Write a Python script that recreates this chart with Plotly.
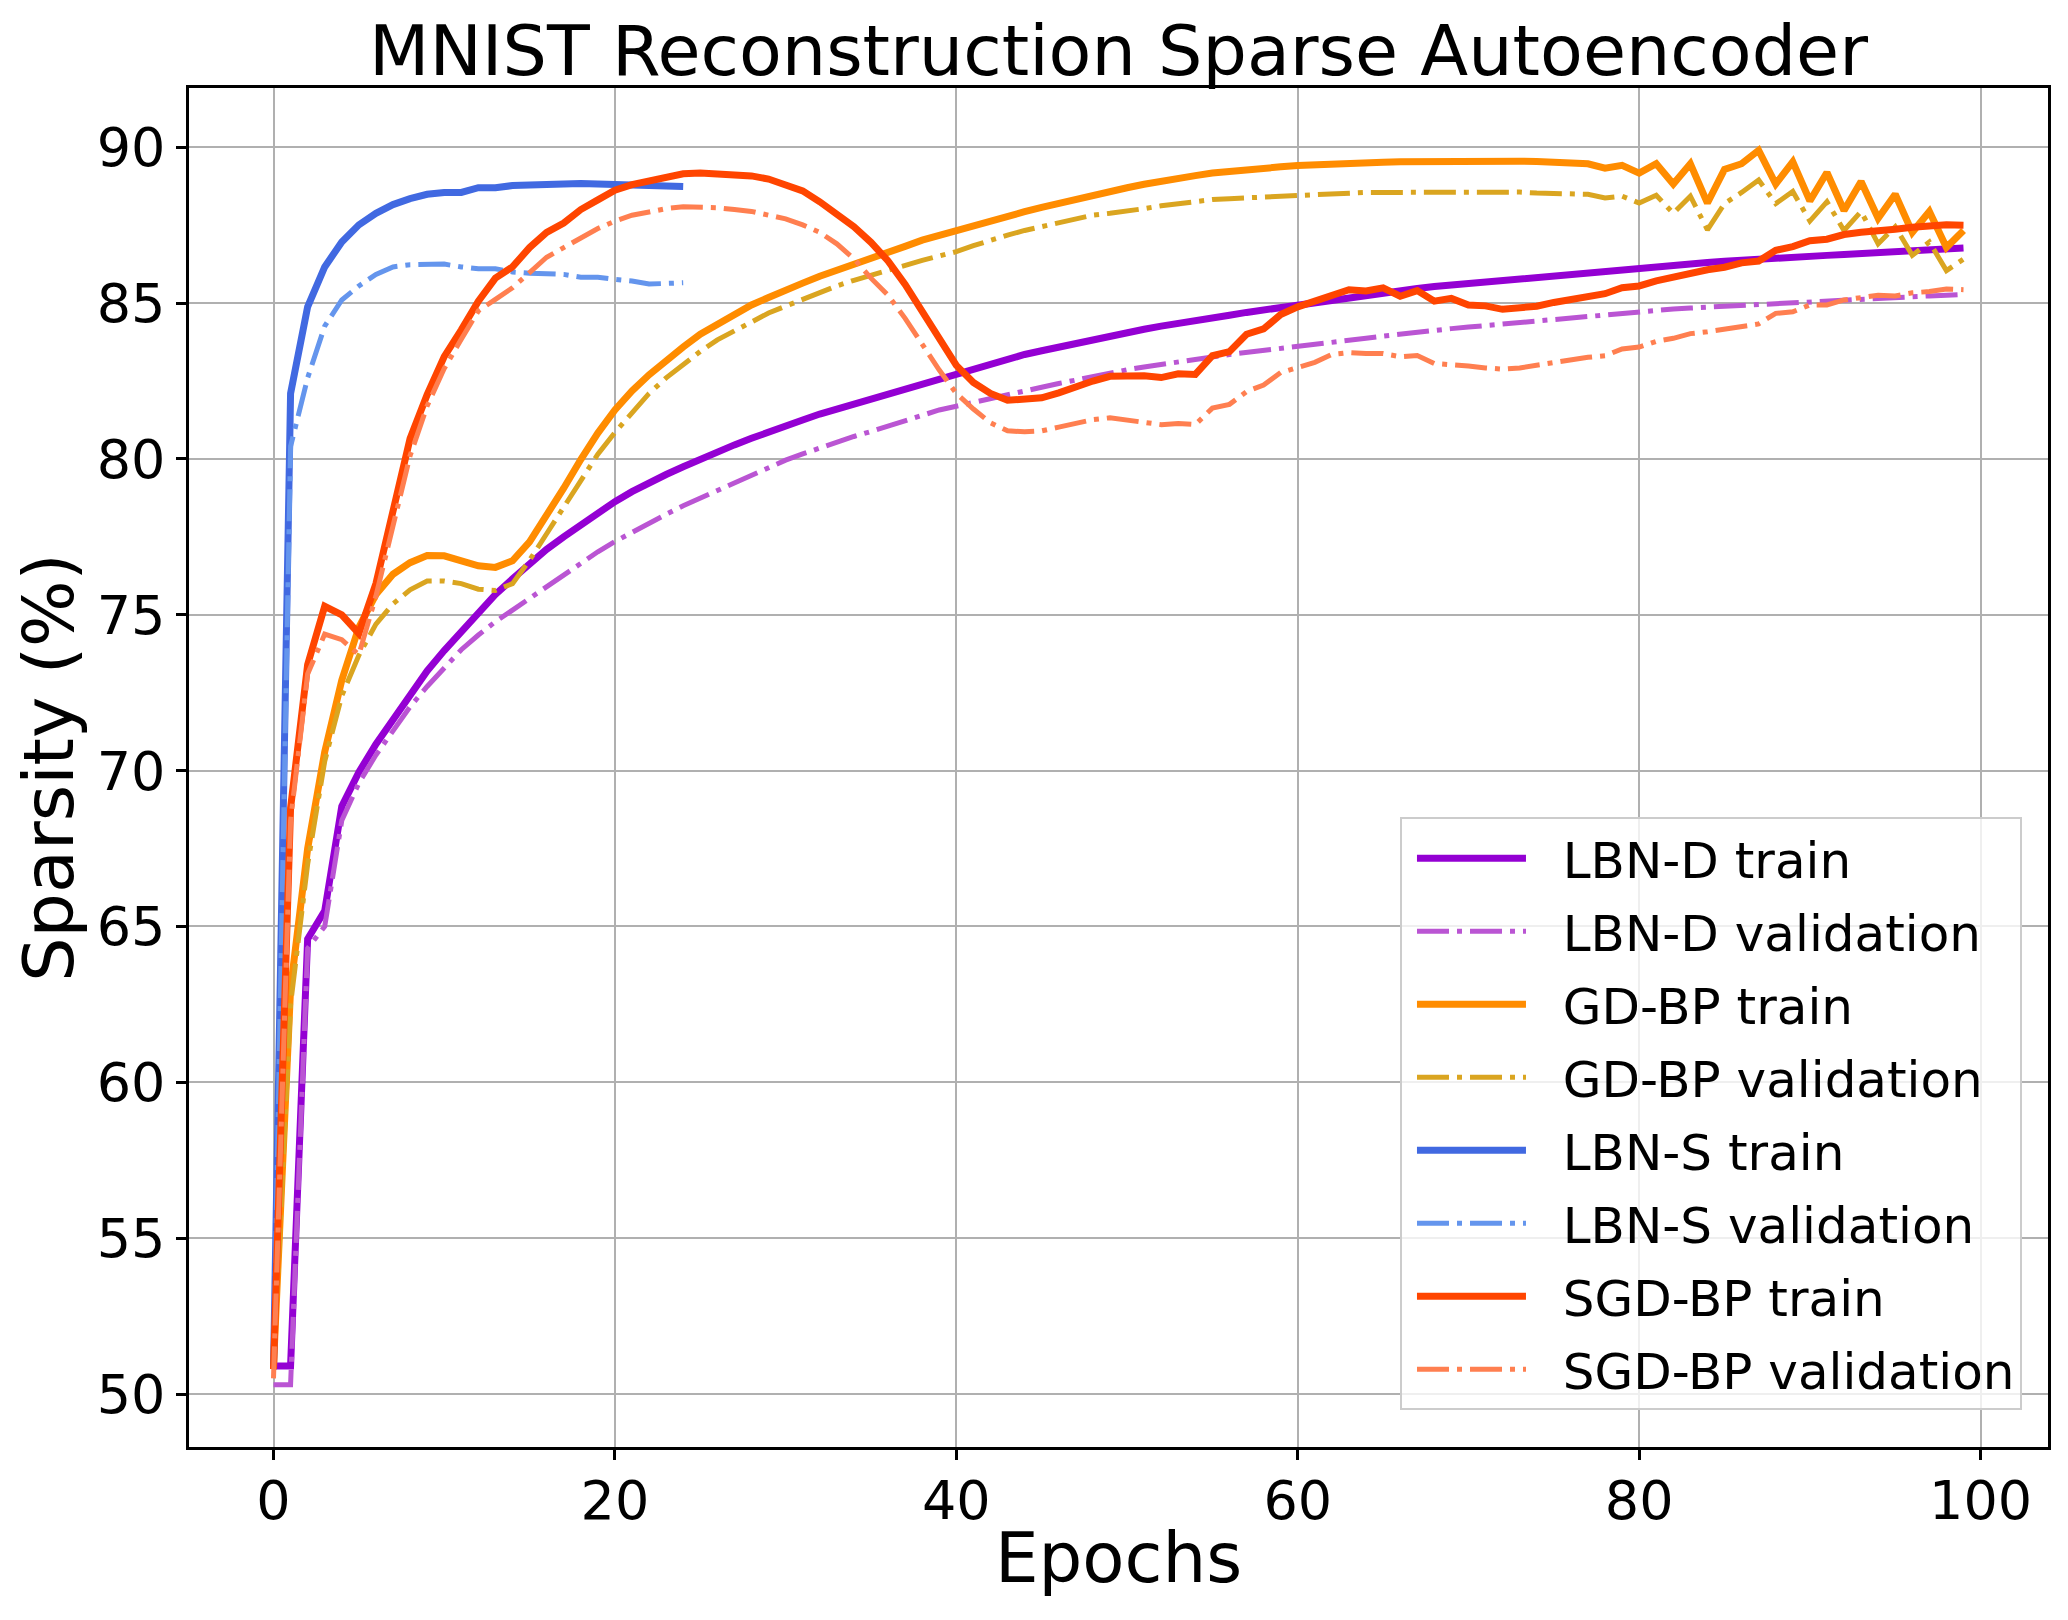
import plotly.graph_objects as go

epochs = list(range(100))
epochs_s = list(range(25))

lbnd_train = [50.9, 50.9, 64.6, 65.5, 68.85, 69.95, 70.85, 71.65, 72.45, 73.2,
              73.85, 74.45, 75.05, 75.65, 76.15, 76.65, 77.1, 77.5, 77.9, 78.28,
              78.63, 78.95, 79.24, 79.5, 79.75, 80.0, 80.22, 80.45, 80.66, 80.87,
              81.06, 81.25, 81.44, 81.6, 81.76, 81.92, 82.07, 82.25, 82.42, 82.58,
              82.73, 82.9, 83.06, 83.2, 83.35, 83.47, 83.59, 83.72, 83.84, 83.95,
              84.06, 84.16, 84.26, 84.36, 84.45, 84.53, 84.61, 84.7, 84.78, 84.86,
              84.94, 85.03, 85.12, 85.2, 85.27, 85.34, 85.4, 85.47, 85.53, 85.58,
              85.64, 85.69, 85.75, 85.8, 85.85, 85.9, 85.95, 86.0, 86.05, 86.1,
              86.14, 86.18, 86.22, 86.26, 86.3, 86.34, 86.38, 86.41, 86.44, 86.47,
              86.5, 86.53, 86.56, 86.59, 86.62, 86.65, 86.68, 86.71, 86.74, 86.77]

lbnd_val = [50.3, 50.3, 64.3, 65.0, 68.4, 69.6, 70.5, 71.3, 72.05, 72.7,
            73.3, 73.88, 74.35, 74.78, 75.15, 75.52, 75.9, 76.3, 76.67, 77.02,
            77.35, 77.65, 77.95, 78.22, 78.5, 78.75, 79.0, 79.25, 79.5, 79.74,
            79.96, 80.16, 80.36, 80.54, 80.72, 80.88, 81.06, 81.25, 81.43, 81.57,
            81.69, 81.82, 81.94, 82.06, 82.18, 82.3, 82.42, 82.54, 82.65, 82.76,
            82.86, 82.95, 83.04, 83.12, 83.19, 83.27, 83.35, 83.41, 83.47, 83.53,
            83.59, 83.66, 83.74, 83.8, 83.87, 83.94, 84.01, 84.07, 84.13, 84.18,
            84.23, 84.28, 84.33, 84.39, 84.44, 84.5, 84.55, 84.6, 84.65, 84.7,
            84.75, 84.78, 84.81, 84.84, 84.87, 84.9, 84.93, 84.96, 84.98, 85.01,
            85.04, 85.07, 85.09, 85.12, 85.15, 85.17, 85.2, 85.23, 85.25, 85.28]

gdbp_train = [50.9, 63.0, 67.5, 70.6, 72.9, 74.6, 75.65, 76.3, 76.67, 76.9,
              76.89, 76.73, 76.57, 76.52, 76.73, 77.34, 78.16, 79.06, 79.98, 80.83,
              81.57, 82.18, 82.7, 83.16, 83.59, 84.0, 84.33, 84.63, 84.94, 85.18,
              85.43, 85.64, 85.86, 86.04, 86.23, 86.42, 86.62, 86.82, 87.02, 87.18,
              87.33, 87.48, 87.63, 87.78, 87.93, 88.07, 88.2, 88.35, 88.48, 88.6,
              88.7, 88.81, 88.92, 89.01, 89.09, 89.17, 89.23, 89.28, 89.33, 89.37,
              89.41, 89.44, 89.47, 89.49, 89.51, 89.52, 89.53, 89.54, 89.55, 89.56,
              89.56, 89.56, 89.56, 89.55, 89.54, 89.53, 89.47, 89.47, 89.33, 89.42,
              89.17, 89.47, 88.82, 89.47, 88.21, 89.29, 89.47, 89.9, 88.82, 89.53,
              88.28, 89.19, 87.97, 88.9, 87.72, 88.49, 87.27, 87.94, 86.78, 87.33]

gdbp_val = [50.9, 62.5, 67.0, 70.3, 72.4, 73.7, 74.7, 75.35, 75.8, 76.08,
            76.08, 76.0, 75.82, 75.78, 76.0, 76.75, 77.6, 78.45, 79.3, 80.15,
            80.85, 81.5, 82.1, 82.6, 83.05, 83.45, 83.82, 84.12, 84.42, 84.68,
            84.9, 85.12, 85.35, 85.55, 85.73, 85.9, 86.04, 86.2, 86.37, 86.51,
            86.65, 86.84, 87.02, 87.18, 87.33, 87.45, 87.57, 87.7, 87.82, 87.88,
            87.94, 88.03, 88.12, 88.2, 88.28, 88.32, 88.35, 88.38, 88.4, 88.43,
            88.46, 88.49, 88.52, 88.54, 88.55, 88.55, 88.55, 88.56, 88.57, 88.58,
            88.58, 88.58, 88.58, 88.56, 88.53, 88.51, 88.49, 88.49, 88.37, 88.43,
            88.21, 88.46, 87.88, 88.43, 87.35, 88.19, 88.55, 88.95, 88.19, 88.58,
            87.63, 88.25, 87.33, 87.94, 86.9, 87.45, 86.53, 86.96, 86.04, 86.41]

lbns_train = [50.8, 82.1, 84.88, 86.16, 86.96, 87.51, 87.88, 88.16, 88.35, 88.49,
              88.55, 88.55, 88.7, 88.7, 88.77, 88.8, 88.81, 88.82, 88.84, 88.82,
              88.8, 88.82, 88.8, 88.79, 88.74]

lbns_val = [50.8, 80.4, 82.6, 84.26, 85.1, 85.55, 85.92, 86.16, 86.23, 86.25,
            86.25, 86.16, 86.1, 86.1, 86.0, 85.96, 85.94, 85.92, 85.83, 85.83,
            85.76, 85.71, 85.61, 85.65, 85.65]

sgdbp_train = [50.8, 68.8, 73.4, 75.27, 75.0, 74.4, 76.0, 78.32, 80.65, 82.06,
               83.28, 84.14, 85.06, 85.8, 86.16, 86.78, 87.27, 87.57, 88.0, 88.31,
               88.62, 88.8, 88.92, 89.04, 89.15, 89.17, 89.13, 89.1, 89.08, 88.98,
               88.8, 88.6, 88.25, 87.88, 87.45, 86.95, 86.35, 85.6, 84.7, 83.8,
               83.0, 82.45, 82.1, 81.88, 81.9, 81.96, 82.12, 82.33, 82.5, 82.65,
               82.66, 82.67, 82.61, 82.73, 82.71, 83.31, 83.44, 84.0, 84.17, 84.63,
               84.88, 85.06, 85.27, 85.43, 85.39, 85.49, 85.22, 85.4, 85.06, 85.15,
               84.94, 84.91, 84.8, 84.85, 84.9, 85.02, 85.12, 85.2, 85.3, 85.49,
               85.55, 85.71, 85.83, 85.98, 86.07, 86.15, 86.29, 86.35, 86.69, 86.81,
               87.0, 87.05, 87.2, 87.27, 87.3, 87.37, 87.43, 87.48, 87.51, 87.5]

sgdbp_val = [50.5, 68.4, 73.1, 74.38, 74.2, 73.72, 75.6, 77.9, 80.1, 81.7,
             82.9, 83.84, 84.75, 85.12, 85.49, 85.98, 86.47, 86.78, 87.08, 87.39,
             87.63, 87.82, 87.92, 88.03, 88.09, 88.09, 88.06, 88.0, 87.94, 87.82,
             87.7, 87.51, 87.27, 86.9, 86.42, 85.8, 85.25, 84.51, 83.65, 82.85,
             82.1, 81.6, 81.16, 80.9, 80.87, 80.9, 81.02, 81.16, 81.26, 81.32,
             81.25, 81.16, 81.1, 81.14, 81.1, 81.63, 81.75, 82.16, 82.37, 82.77,
             82.92, 83.1, 83.35, 83.41, 83.38, 83.38, 83.28, 83.32, 83.06, 83.03,
             82.98, 82.92, 82.88, 82.92, 83.0, 83.1, 83.2, 83.26, 83.31, 83.53,
             83.59, 83.77, 83.87, 84.02, 84.08, 84.17, 84.26, 84.33, 84.67, 84.72,
             84.94, 84.94, 85.1, 85.16, 85.25, 85.23, 85.33, 85.37, 85.45, 85.43]

# nombre, x, y, color, es validacion
series = [
    ("LBN-D train", epochs, lbnd_train, "#9400D3", False),
    ("LBN-D validation", epochs, lbnd_val, "#BA55D3", True),
    ("GD-BP train", epochs, gdbp_train, "#FF8C00", False),
    ("GD-BP validation", epochs, gdbp_val, "#DAA520", True),
    ("LBN-S train", epochs_s, lbns_train, "#4169E1", False),
    ("LBN-S validation", epochs_s, lbns_val, "#6495ED", True),
    ("SGD-BP train", epochs, sgdbp_train, "#FF4500", False),
    ("SGD-BP validation", epochs, sgdbp_val, "#FF7F50", True),
]

fig = go.Figure()
for nombre, xs, ys, color, val in series:
    if val:
        linea = dict(color=color, width=5, dash="32px,8px,5px,8px")
    else:
        linea = dict(color=color, width=7)
    # los espacios separan la linea del texto en la leyenda
    fig.add_trace(go.Scatter(x=xs, y=ys, mode="lines", name="\u00a0\u00a0" + nombre,
                             legendgroup=nombre, line=linea))

eje = dict(showgrid=True, gridcolor="#b0b0b0", gridwidth=2, zeroline=False,
           showline=True, linecolor="black", linewidth=2.5, mirror=True,
           ticks="outside", ticklen=10, tickwidth=2.5, tickcolor="black",
           tickfont=dict(size=54, color="black"))

# la pagina deja 8 px de margen, por eso el lienzo es un poco menor
fig.update_layout(
    width=2060, height=1612,
    margin=dict(l=181, r=20, t=80, b=173),
    paper_bgcolor="white", plot_bgcolor="white",
    font=dict(family="DejaVu Sans", color="black"),
    title=dict(text="MNIST Reconstruction Sparse Autoencoder", font=dict(size=70),
               x=(181 + 2040) / 2 / 2060, xanchor="center",
               y=1 - 42 / 1612, yanchor="middle", yref="container"),
    xaxis=dict(eje, range=[-4.95, 103.95], dtick=20, ticklabelstandoff=-6,
               title=dict(text="Epochs", font=dict(size=69), standoff=4)),
    yaxis=dict(eje, range=[48.3, 91.9], dtick=5,
               title=dict(text="Sparsity (%)", font=dict(size=70), standoff=10)),
    legend=dict(x=0.986, y=0.027, xanchor="right", yanchor="bottom",
                bgcolor="rgba(255,255,255,0.8)", bordercolor="#cccccc", borderwidth=2,
                font=dict(size=50), itemwidth=109, indentation=10,
                tracegroupgap=5),
    showlegend=True,
)

fig.write_html("out.html")
